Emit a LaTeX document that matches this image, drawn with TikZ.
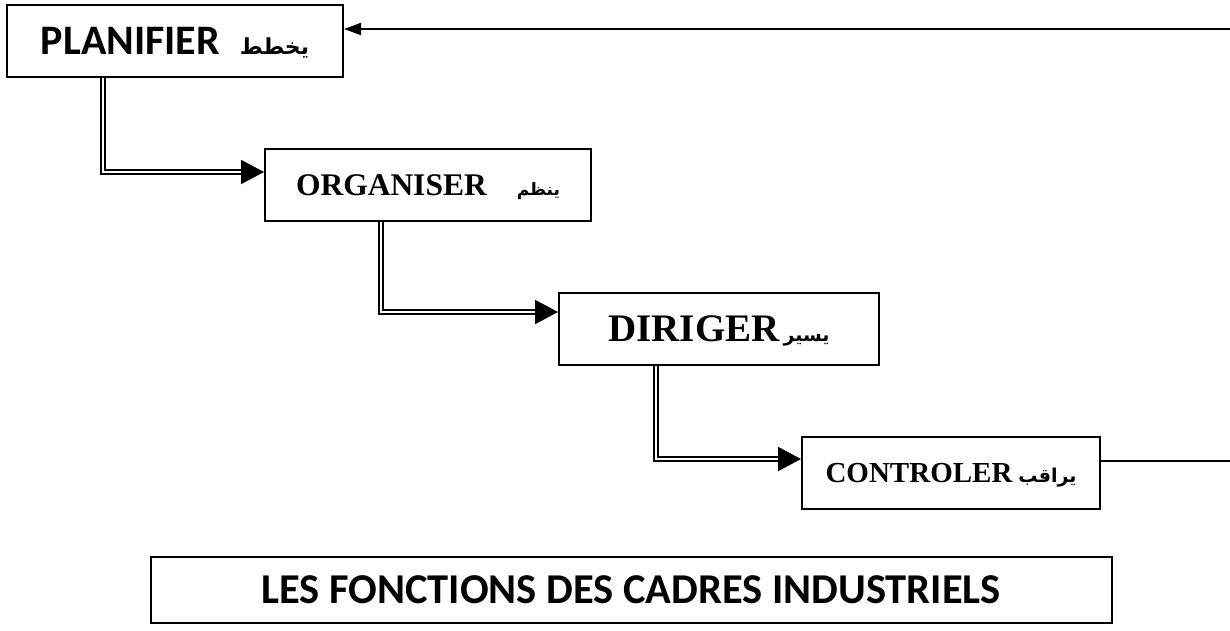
\documentclass[tikz,border=0pt]{standalone}
\usepackage{fontspec}
\setmainfont{Liberation Serif}
\newfontfamily\calfont{Carlito}
\newfontfamily\arabicfont[Script=Arabic]{DejaVu Sans}
\TeXXeTstate=1
\usetikzlibrary{arrows.meta,calc}
\begin{document}
\begin{tikzpicture}[x=1pt,y=-1pt,
  box/.style={draw=black,line width=2pt,rectangle,inner sep=0pt,minimum height=72pt},
  dbl/.style={draw=black,line width=2pt,double=white,double distance=2pt,-{Triangle[length=23pt,width=24pt]}},
  fb/.style={draw=black,line width=1.8pt}
]
\useasboundingbox (0,0) rectangle (1230,630);
\node[box,minimum width=336pt] (P) at (175,41) {\calfont\bfseries\fontsize{42}{44}\selectfont PLANIFIER\hspace{20pt}\smash{\arabicfont\fontsize{22}{24}\selectfont\beginR يخطط\endR}};
\node[box,minimum width=326pt] (O) at (428,185) {\bfseries\fontsize{31.5}{34}\selectfont ORGANISER\hspace{30pt}\smash{\arabicfont\fontsize{17}{20}\selectfont\beginR ينظم\endR}};
\node[box,minimum width=320pt] (D) at (719,329) {\bfseries\fontsize{39}{40}\selectfont DIRIGER\hspace{4pt}\smash{\arabicfont\fontsize{19}{22}\selectfont\beginR يسير\endR}};
\node[box,minimum width=298pt] (C) at (951,473) {\bfseries\fontsize{29}{32}\selectfont CONTROLER\hspace{6pt}\smash{\arabicfont\fontsize{19}{22}\selectfont\beginR يراقب\endR}};
\node[box,minimum width=961pt,minimum height=66pt] (T) at (631,590) {\calfont\bfseries\fontsize{42.5}{44}\selectfont LES FONCTIONS DES CADRES INDUSTRIELS};
% double connectors
\coordinate (o1) at ($(O.north west)+(0,24)$);
\coordinate (d1) at ($(D.north west)+(0,20)$);
\coordinate (c1) at ($(C.north west)+(0,23)$);
\draw[dbl] (P.south -| 103,0) |- (o1);
\draw[dbl] (O.south -| 381,0) |- (d1);
\draw[dbl] (D.south -| 656,0) |- (c1);
% feedback
\coordinate (fin) at (1232,29);
\coordinate (fout) at (1232,461);
\draw[fb,-{Triangle[length=17pt,width=12pt]}] (fin) -- (fin -| P.east);
\draw[fb] (C.east |- fout) -- (fout);
\end{tikzpicture}
\end{document}
